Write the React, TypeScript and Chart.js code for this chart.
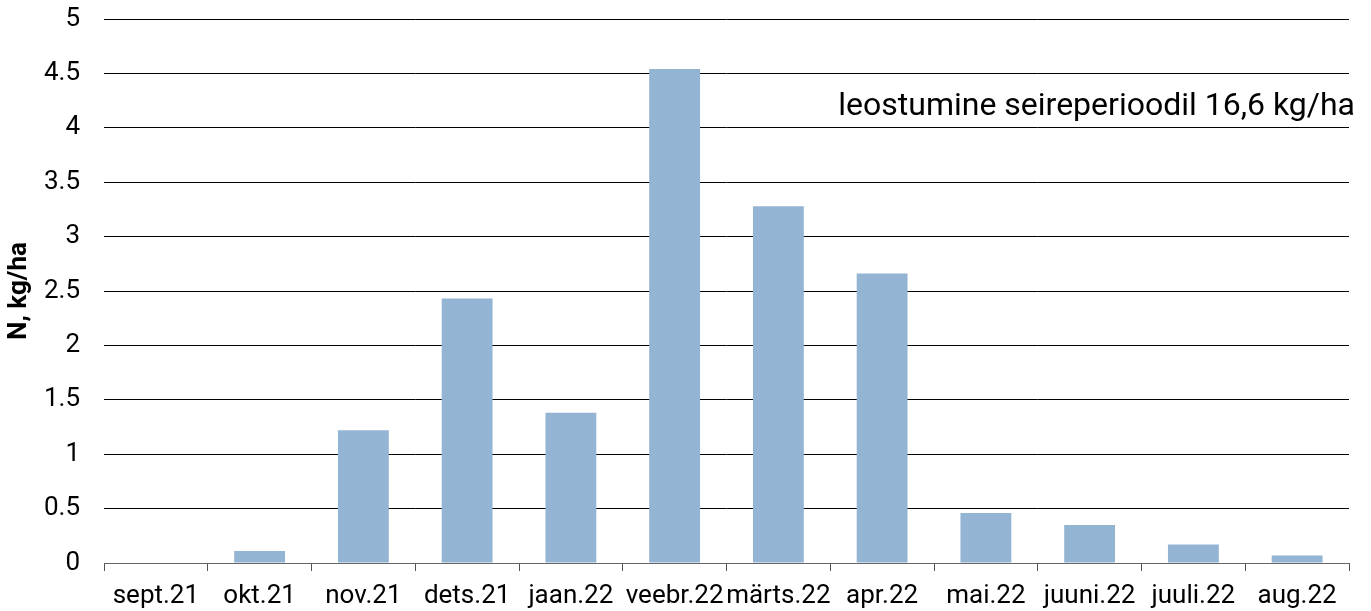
import React, { useEffect, useRef } from "react";
import { Chart, registerables } from "chart.js";

Chart.register(...registerables);

const categories = [
  "sept.21", "okt.21", "nov.21", "dets.21", "jaan.22", "veebr.22",
  "märts.22", "apr.22", "mai.22", "juuni.22", "juuli.22", "aug.22",
];
const leaching = [0, 0.11, 1.22, 2.43, 1.38, 4.54, 3.28, 2.66, 0.46, 0.35, 0.17, 0.07];
const yTitle = "N, kg/ha";
const note = "leostumine seireperioodil 16,6 kg/ha";

const FONT = "Roboto, 'Open Sans', sans-serif";

const notePlugin = {
  id: "notePlugin",
  afterDraw(chart: any) {
    const { ctx, chartArea } = chart;
    ctx.save();
    ctx.font = `32px ${FONT}`;
    ctx.fillStyle = "#000";
    ctx.textAlign = "right";
    ctx.textBaseline = "alphabetic";
    ctx.fillText(note, chartArea.right + 6, 115);
    ctx.restore();
  },
};

export default function App() {
  const ref = useRef<HTMLCanvasElement | null>(null);
  useEffect(() => {
    if (!ref.current) return;
    const chart = new Chart(ref.current, {
      type: "bar",
      data: {
        labels: categories,
        datasets: [
          {
            data: leaching,
            backgroundColor: "#94B4D3",
            borderWidth: 0,
            barPercentage: 0.49,
            categoryPercentage: 1,
          },
        ],
      },
      options: {
        animation: false,
        responsive: true,
        maintainAspectRatio: false,
        locale: "en-US",
        layout: { padding: { top: 0, right: 22, left: 0, bottom: 0 } },
        plugins: { legend: { display: false }, tooltip: { enabled: false } },
        scales: {
          x: {
            grid: {
              offset: true,
              drawOnChartArea: false,
              drawTicks: true,
              tickLength: 8,
              color: "#555",
            },
            border: { display: true, color: "#666", width: 1 },
            ticks: {
              color: "#000",
              font: { family: FONT, size: 26 },
              padding: 10,
              maxRotation: 0,
              autoSkip: false,
            },
            afterFit: (s: any) => {
              s.height = 48;
            },
          },
          y: {
            min: 0,
            max: 5,
            grid: { drawTicks: false, color: "#000", lineWidth: 1 },
            border: { display: false },
            ticks: {
              stepSize: 0.5,
              color: "#000",
              padding: 24,
              font: { family: FONT, size: 26 },
              callback: (v: any) => String(Math.round(Number(v) * 10) / 10),
            },
            title: {
              display: true,
              text: yTitle,
              color: "#000",
              font: { family: FONT, size: 26, weight: "bold" },
              padding: { top: 4, bottom: 0 },
            },
            afterFit: (s: any) => {
              s.width = 104;
              s.paddingTop = 19;
              s.paddingBottom = 0;
            },
          },
        },
      },
      plugins: [notePlugin],
    });
    return () => chart.destroy();
  }, []);
  return (
    <div style={{ position: "fixed", left: 0, top: 0, width: 1371, height: 611 }}>
      <canvas ref={ref} />
    </div>
  );
}
